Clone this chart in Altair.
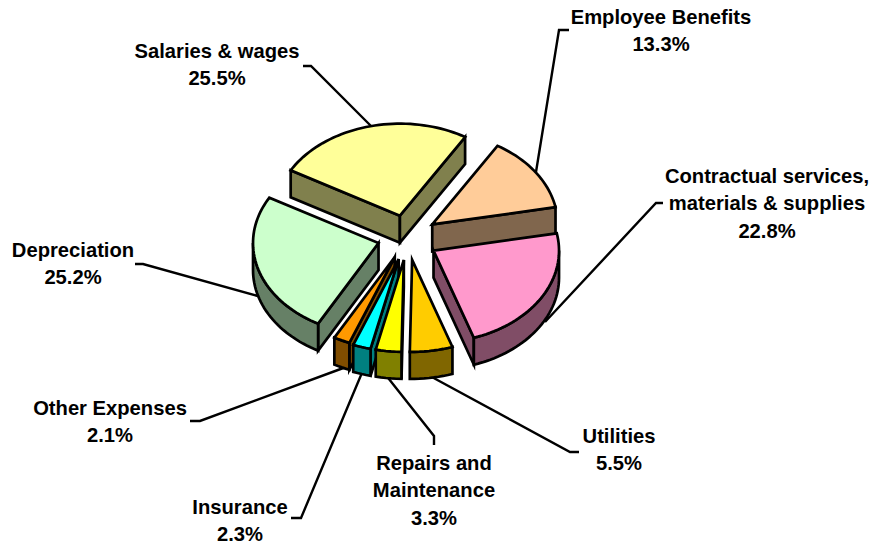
import math
import altair as alt

# ---- chart values -------------------------------------------------------
names = ["Employee Benefits", "Contractual services, materials & supplies", "Utilities",
         "Repairs and Maintenance", "Insurance", "Other Expenses", "Depreciation", "Salaries & wages"]
shares = [13.3, 22.8, 5.5, 3.3, 2.3, 2.1, 25.2, 25.5]
top_colors = ["#FFCC99", "#FF99CC", "#FFCC00", "#FFFF00", "#00FFFF", "#FF9900", "#CCFFCC", "#FFFF99"]
side_colors = ["#80664D", "#804D66", "#806600", "#808000", "#008080", "#804D00", "#668066", "#80804D"]
draw_order = [7, 0, 1, 6, 5, 4, 3, 2]

label_lines = [["Employee Benefits", "13.3%"],
               ["Contractual services,", "materials & supplies", "22.8%"],
               ["Utilities", "5.5%"],
               ["Repairs and", "Maintenance", "3.3%"],
               ["Insurance", "2.3%"],
               ["Other Expenses", "2.1%"],
               ["Depreciation", "25.2%"],
               ["Salaries & wages", "25.5%"]]
label_anchor = [(661, 18), (767, 177), (619, 437), (434, 464), (240, 508), (110, 409), (73, 251), (217, 52)]
leaders = [[(536, 172), (559, 30), (569, 30)],
           [(545, 322), (656, 203), (663, 203)],
           [(430, 376), (570, 452), (579, 452)],
           [(385, 374), (434, 436), (434, 445)],
           [(364, 368), (301, 518), (291, 518)],
           [(346, 367), (200, 421), (190, 421)],
           [(258, 296), (143, 264), (135, 264)],
           [(373, 128), (311, 66), (303, 66)]]

# ---- pie geometry -------------------------------------------------------
OFF = 8
CX, CY, RX, RY, DEPTH, EXPLODE, START = 407.5, 237, 125.5, 92, 27, 0.24, 31.3
slice_nudge_y = [0, 2.5, 1, 1, 1, 0, 0, 0]


def pt(cx, cy, t, dy=0):
    r = math.radians(t)
    return [cx + RX * math.sin(r) - OFF, cy - RY * math.cos(r) + dy - OFF]


def feat(coords, fill):
    ring = [[float(x), float(y)] for x, y in coords]
    ring.append(ring[0])
    return {"type": "Feature", "properties": {"fill": fill},
            "geometry": {"type": "Polygon", "coordinates": [ring]}}


spans = []
acc = START
for s in shares:
    spans.append((acc, acc + s * 3.6))
    acc += s * 3.6

features = []
for i in draw_order:
    t0, t1 = spans[i]
    mid = math.radians((t0 + t1) / 2)
    ax = CX + EXPLODE * RX * math.sin(mid)
    ay = CY - EXPLODE * RY * math.cos(mid) + slice_nudge_y[i]
    apex = [ax - OFF, ay - OFF]
    apex_low = [ax - OFF, ay - OFF + DEPTH]
    n = max(4, int((t1 - t0) / 2))
    ts = [t0 + (t1 - t0) * k / n for k in range(n + 1)]
    if math.sin(math.radians(t0)) < 0:
        features.append(feat([apex, pt(ax, ay, t0), pt(ax, ay, t0, DEPTH), apex_low], side_colors[i]))
    if math.sin(math.radians(t1)) > 0:
        features.append(feat([apex, pt(ax, ay, t1), pt(ax, ay, t1, DEPTH), apex_low], side_colors[i]))
    # outer wall: only the front half of the rim
    lo, hi = max(t0, 90), min(t1, 270)
    if lo < hi:
        m = max(4, int((hi - lo) / 2))
        tw = [lo + (hi - lo) * k / m for k in range(m + 1)]
        features.append(feat([pt(ax, ay, t) for t in tw] +
                             [pt(ax, ay, t, DEPTH) for t in reversed(tw)], side_colors[i]))
    features.append(feat([apex] + [pt(ax, ay, t) for t in ts], top_colors[i]))

leader_features = [{"type": "Feature", "properties": {},
                    "geometry": {"type": "LineString",
                                 "coordinates": [[x - OFF, y - OFF] for x, y in line]}}
                   for line in leaders]

text_rows = []
for lines, (x, y) in zip(label_lines, label_anchor):
    for j, line in enumerate(lines):
        text_rows.append({"t": line, "lon": x - OFF, "lat": y + j * 27.4 - OFF})

proj = dict(type="identity", scale=1, translate=[0, 0])

leader_layer = alt.Chart(alt.Data(values=leader_features)).mark_geoshape(
    filled=False, stroke="black", strokeWidth=2.4, strokeJoin="miter"
).project(**proj)

slice_layer = alt.Chart(alt.Data(values=features)).mark_geoshape(
    stroke="black", strokeWidth=2.7, strokeJoin="miter", strokeMiterLimit=5
).encode(fill=alt.Fill("properties.fill:N", scale=None)).project(**proj)

text_layer = alt.Chart(alt.Data(values=text_rows)).mark_text(
    font="Liberation Sans", fontWeight="bold", fontSize=20.2, color="black",
    align="center", baseline="middle"
).encode(longitude="lon:Q", latitude="lat:Q", text="t:N").project(**proj)

chart = alt.layer(leader_layer, slice_layer, text_layer).properties(
    width=862, height=538, padding=0, background="white",
    autosize=alt.AutoSizeParams(type="none")
).configure_view(stroke=None)

chart.save("out.html", embed_options={"renderer": "svg", "actions": False})
